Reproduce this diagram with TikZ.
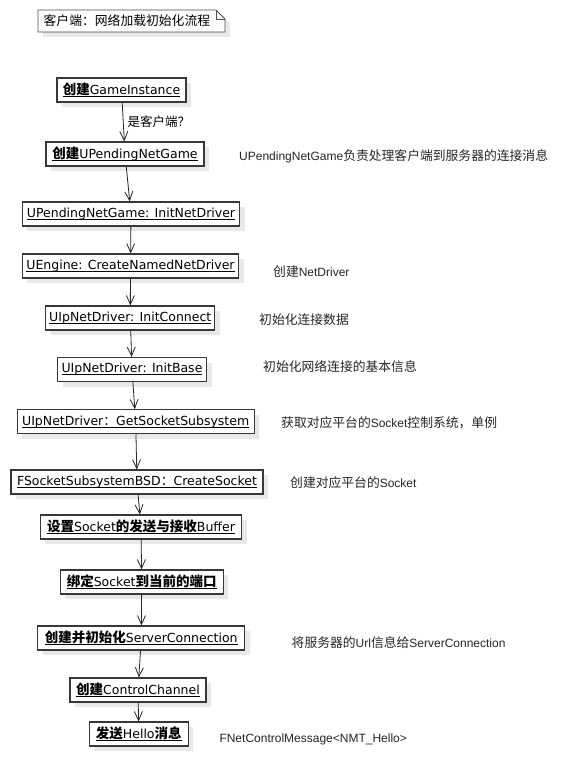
\documentclass[tikz,border=0pt]{standalone}
\usepackage{fontspec}
\setmainfont{DejaVu Sans}
\newfontfamily\zh{Noto Sans CJK SC}
\newfontfamily\boxlat{DejaVu Sans}
\newfontfamily\sidelat{Liberation Sans}
\usetikzlibrary{arrows.meta,shadows}
\newcommand{\uln}[1]{\leavevmode\setbox0\hbox{#1}\rlap{\rule[-2.4bp]{\wd0}{0.9bp}}\box0}
\newcommand{\zb}[1]{{\zh\bfseries\fontsize{13.5bp}{15bp}\selectfont #1}}
\newcommand{\zs}[1]{{\zh\fontsize{12.8bp}{15bp}\selectfont #1}}
\tikzset{
  stepbox/.style={draw=black!78, line width=1.1bp, fill=white, minimum height=24bp,
    inner sep=0pt, font=\boxlat\fontsize{12.5bp}{14bp}\selectfont,
    drop shadow={shadow xshift=5bp, shadow yshift=-5bp, fill=black!9, opacity=1}},
  flow/.style={draw=black!85, line width=0.8bp,
    -{Straight Barb[length=9bp,width=8bp,line width=0.8bp]}},
  side/.style={anchor=west, inner sep=0pt, font=\sidelat\fontsize{12bp}{14bp}\selectfont, text=black!85},
}
\begin{document}
\begin{tikzpicture}[x=1bp,y=-1bp]
\useasboundingbox (0,0) rectangle (572,760);
\fill[white] (0,0) rectangle (572,760);
% note
\fill[black!9] (43,15) -- (221,15) -- (230,24) -- (230,37) -- (43,37) -- cycle;
\draw[black!70, line width=0.9bp, fill=white] (38,10) -- (216,10) -- (225,19) -- (225,32) -- (38,32) -- cycle;
\draw[black!70, line width=0.9bp] (216,10) -- (216,19) -- (225,19);
\node[anchor=west, inner sep=0pt, font=\zh\fontsize{12.8bp}{15bp}\selectfont] (note) at (43.5,21) {客户端：网络加载初始化流程};
% boxes
\node[stepbox, minimum width=129bp] (n1) at (121.5,90) {\uln{\zb{创建}GameInstance}};
\node[stepbox, minimum width=158bp] (n2) at (125,154) {\uln{\zb{创建}UPendingNetGame}};
\node[stepbox, minimum width=217bp] (n3) at (131,214) {\uln{UPendingNetGame: InitNetDriver}};
\node[stepbox, minimum width=216bp] (n4) at (130.5,266) {\uln{UEngine: CreateNamedNetDriver}};
\node[stepbox, minimum width=169bp] (n5) at (130.3,318) {\uln{UIpNetDriver: InitConnect}};
\node[stepbox, minimum width=149bp] (n6) at (132,369.5) {\uln{UIpNetDriver: InitBase}};
\node[stepbox, minimum width=237bp] (n7) at (135.7,421.7) {\uln{UIpNetDriver\zs{：}GetSocketSubsystem}};
\node[stepbox, minimum width=252bp] (n8) at (137,482) {\uln{FSocketSubsystemBSD\zs{：}CreateSocket}};
\node[stepbox, minimum width=201bp] (n9) at (141,527) {\uln{\zb{设置}Socket\zb{的发送与接收}Buffer}};
\node[stepbox, minimum width=163bp] (n10) at (141.7,582) {\uln{\zb{绑定}Socket\zb{到当前的端口}}};
\node[stepbox, minimum width=207bp] (n11) at (141.3,638) {\uln{\zb{创建并初始化}ServerConnection}};
\node[stepbox, minimum width=136bp] (n12) at (138,690) {\uln{\zb{创建}ControlChannel}};
\node[stepbox, minimum width=99bp] (n13) at (138.8,734) {\uln{\zb{发送}Hello\zb{消息}}};
% connectors
\draw[flow] (n1) -- (n2) node[pos=0.5, anchor=west, inner sep=0pt, xshift=4bp, font=\zh\fontsize{12.5bp}{15bp}\selectfont] (lbl) {是客户端？};
\draw[flow] (n2) -- (n3);
\draw[flow] (n3) -- (n4);
\draw[flow] (n4) -- (n5);
\draw[flow] (n5) -- (n6);
\draw[flow] (n6) -- (n7);
\draw[flow] (n7) -- (n8);
\draw[flow] (n8) -- (n9);
\draw[flow] (n9) -- (n10);
\draw[flow] (n10) -- (n11);
\draw[flow] (n11) -- (n12);
\draw[flow] (n12) -- (n13);
% side notes
\node[side] (s1) at (239,156) {UPendingNetGame\zs{负责处理客户端到服务器的连接消息}};
\node[side] (s2) at (273,272) {\zs{创建}NetDriver};
\node[side] (s3) at (259,320) {\zs{初始化连接数据}};
\node[side] (s4) at (263,367) {\zs{初始化网络连接的基本信息}};
\node[side] (s5) at (281,423) {\zs{获取对应平台的}Socket\zs{控制系统，单例}};
\node[side] (s6) at (290,483) {\zs{创建对应平台的}Socket};
\node[side] (s7) at (291.5,643) {\zs{将服务器的}Url\zs{信息给}ServerConnection};
\node[side] (s8) at (219.3,739) {FNetControlMessage<NMT\_Hello>};
\end{tikzpicture}
\end{document}
